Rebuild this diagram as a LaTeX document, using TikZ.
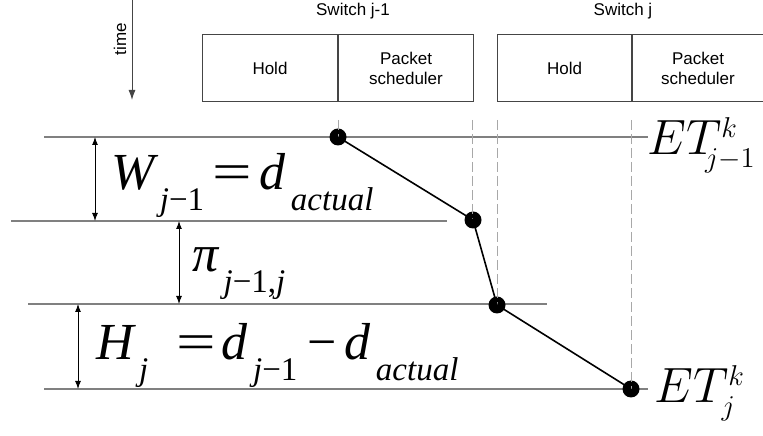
\documentclass[tikz,border=0pt]{standalone}
\usepackage[no-math]{fontspec}
\setsansfont{Liberation Sans}
\newfontfamily\eqfont{Liberation Serif}
\usetikzlibrary{arrows.meta,positioning}
\DeclareMathSizes{26}{26}{15.5}{11}
\definecolor{Level}{HTML}{808080}
\definecolor{Guide}{HTML}{A8A8A8}
\definecolor{Frame}{HTML}{454545}
\newcommand{\ev}[1]{{\itshape #1}}
\newcommand{\lo}[1]{\hspace{.1em}\raisebox{-.4em}{\fontsize{16.5bp}{18bp}\selectfont#1}}
\newcommand{\eqs}{\scalebox{1.35}[1]{=}}
\tikzset{
 every node/.style={font=\sffamily\fontsize{8.5bp}{10bp}\selectfont},
 level/.style={draw=Level,line width=1bp},
 guide/.style={draw=Guide,line width=.5bp,dash pattern=on 5bp off 2bp},
 span/.style={{Latex[length=4bp,width=3bp]}-{Latex[length=4bp,width=3bp]},line width=.5bp},
 timearr/.style={-{Latex[length=5bp,width=3.5bp]},line width=.5bp,draw=Frame},
 hop/.style={line width=.8bp},
 dot/.style={circle,fill=black,inner sep=0pt,minimum size=8.5bp},
 cell/.style={draw=Frame,line width=.5bp,minimum height=33.5bp,inner sep=0pt,align=center,anchor=north west},
 eq/.style={anchor=base west,inner sep=0pt,font=\eqfont\fontsize{26bp}{28bp}\selectfont},
 etlab/.style={anchor=base west,inner sep=0pt,font=\fontsize{26}{30}\selectfont},
 }
\begin{document}
\begin{tikzpicture}[x=.5bp,y=-.5bp]
 \useasboundingbox (0,0) rectangle (763,436);
 % switches
 \node[cell,minimum width=67.5bp] (hold1) at (202,34) {Hold};
 \node[cell,minimum width=67.5bp] (pkt1) at (hold1.north east) {Packet\\scheduler};
 \node[cell,minimum width=67bp] (hold2) at (497,34) {Hold};
 \node[cell,minimum width=65.5bp] (pkt2) at (hold2.north east) {Packet\\scheduler};
 \node (sw1) at (353,11) {Switch j-1};
 \node (sw2) at (623,11) {Switch j};
 \node[rotate=90] (time) at (120,39) {time};
 \coordinate (t0) at (132,-2);
 \coordinate (t1) at (132,100);
 \draw[timearr] (t0) -- (t1);
 % time levels
 \foreach \n/\y/\xa/\xb in {1/137/44/648,2/221/11/447,3/304/28/547,4/389/44/648}{
 \coordinate (l\n w) at (\xa,\y);
 \coordinate (l\n e) at (\xb,\y);
 \draw[level] (l\n w) -- (l\n e);}
 \node[dot] (p1) at (338,137) {};
 \node[dot] (p2) at (473,220) {};
 \node[dot] (p3) at (497,305) {};
 \node[dot] (p4) at (631,389) {};
 \foreach \p/\x in {1/338,2/472,3/497,4/631}{
 \coordinate (g\p) at (\x,120);
 \draw[guide] (g\p) -- (g\p |- p\p);}
 \draw[hop] (p1.center) -- (p2.center) -- (p3.center) -- (p4.center);
 \coordinate (w0) at (95,137); \coordinate (w1) at (95,221);
 \coordinate (c0) at (179,221); \coordinate (c1) at (179,304);
 \coordinate (h0) at (78,304); \coordinate (h1) at (78,389);
 \draw[span] (w0) -- (w1);
 \draw[span] (c0) -- (c1);
 \draw[span] (h0) -- (h1);
 \node[eq] (weq) at (111,190) {\ev{W}\lo{\ev{j}−1}\hspace{4bp}\eqs\hspace{4bp}\ev{d}\lo{\ev{actual}}};
 \node[eq] (pieq) at (192,272) {\ev{π}\lo{\ev{j}−1,\ev{j}}};
 \node[eq] (heq) at (96,360) {\ev{H}\lo{\ev{j}}\hspace{14bp}\eqs\hspace{3bp}\ev{d}\lo{\ev{j}−1}\hspace{5bp}−\hspace{4bp}\ev{d}\lo{\ev{actual}}};
 \node[etlab] (et1) at (647,155) {$ET^{k}_{\!\!j-1}$};
 \node[etlab] (et2) at (654,403) {$ET^{k}_{j}$};
\end{tikzpicture}
\end{document}
